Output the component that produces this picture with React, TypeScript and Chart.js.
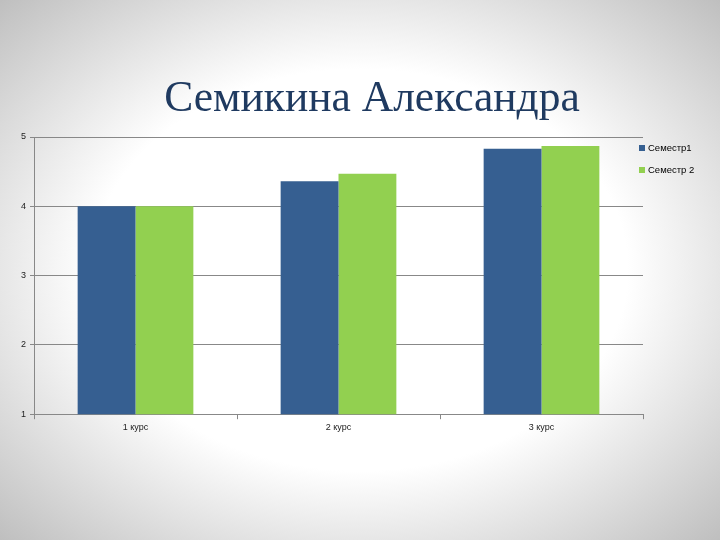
import React, { useEffect, useRef } from "react";
import { Chart, registerables } from "chart.js";

Chart.register(...registerables);

const titleText = "Семикина Александра";
const categories = ["1 курс", "2 курс", "3 курс"];
const seriesNames = ["Семестр1", "Семестр 2"];
const semester1 = [4.0, 4.36, 4.83];
const semester2 = [4.0, 4.47, 4.87];
const seriesColors = ["#365F91", "#92D050"];
const yMin = 1;
const yMax = 5;
const yStep = 1;

const decorPlugin = {
  id: "decor",
  afterDraw(chart: any) {
    const ctx = chart.ctx as CanvasRenderingContext2D;
    ctx.save();
    // title
    ctx.fillStyle = "#1F3A60";
    ctx.font = "43.5px 'Liberation Serif', 'DejaVu Serif', serif";
    ctx.textAlign = "center";
    ctx.textBaseline = "alphabetic";
    ctx.fillText(titleText, 372, 111);
    // legend
    ctx.textAlign = "left";
    ctx.textBaseline = "middle";
    ctx.font = "9.5px 'Liberation Sans', Arial, sans-serif";
    const x0 = chart.chartArea.right - 4;
    chart.data.datasets.forEach((ds: any, i: number) => {
      const cy = chart.chartArea.top + 11 + i * 22;
      ctx.fillStyle = ds.backgroundColor;
      ctx.fillRect(x0, cy - 3, 6, 6);
      ctx.fillStyle = "#000";
      ctx.fillText(ds.label, x0 + 9, cy);
    });
    ctx.restore();
  },
};

export default function App() {
  const ref = useRef<HTMLCanvasElement | null>(null);
  useEffect(() => {
    if (!ref.current) return;
    const chart = new Chart(ref.current, {
      type: "bar",
      data: {
        labels: categories,
        datasets: [
          { label: seriesNames[0], data: semester1, backgroundColor: seriesColors[0] },
          { label: seriesNames[1], data: semester2, backgroundColor: seriesColors[1] },
        ],
      },
      plugins: [decorPlugin],
      options: {
        animation: false,
        responsive: false,
        layout: { padding: { top: 137, left: 17, right: 77, bottom: 104 } },
        datasets: { bar: { categoryPercentage: 0.57, barPercentage: 1.0 } },
        plugins: {
          title: { display: false },
          legend: { display: false },
          tooltip: { enabled: false },
        },
        scales: {
          x: {
            grid: { display: true, drawOnChartArea: false, drawTicks: true, tickLength: 5, color: "#888", offset: true },
            border: { color: "#888" },
            ticks: { color: "#222", padding: 3, font: { family: "'Liberation Sans', Arial, sans-serif", size: 9 } },
          },
          y: {
            min: yMin,
            max: yMax,
            ticks: { stepSize: yStep, color: "#222", padding: 4, font: { family: "'Liberation Sans', Arial, sans-serif", size: 9 } },
            grid: { color: "#888", tickLength: 4 },
            border: { color: "#888" },
          },
        },
      },
    });
    return () => chart.destroy();
  }, []);
  return (
    <div
      style={{
        position: "fixed",
        left: 0,
        top: 0,
        width: 720,
        height: 540,
        background: "radial-gradient(ellipse 62% 62% at 50% 50%, #ffffff 60%, #a0a0a0 140%)",
      }}
    >
      <canvas ref={ref} width={720} height={540} style={{ display: "block" }} />
    </div>
  );
}
